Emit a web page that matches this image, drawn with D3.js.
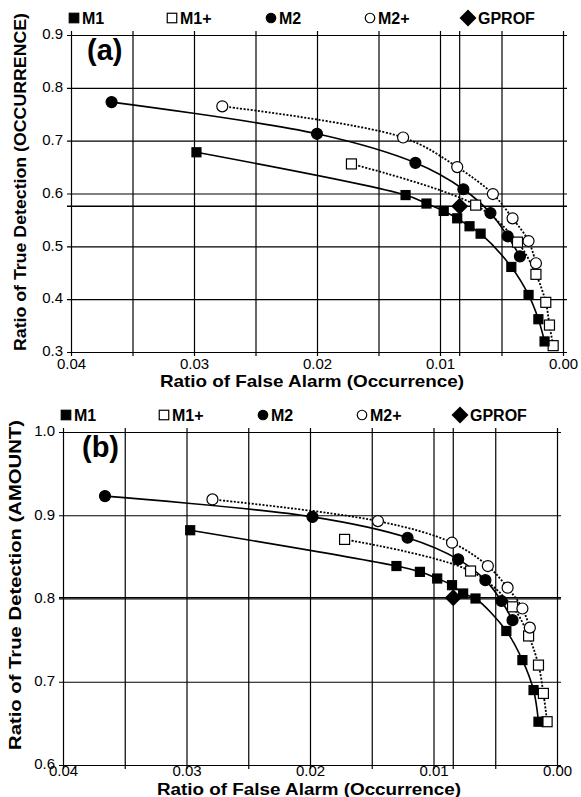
<!DOCTYPE html>
<html>
<head>
<meta charset="utf-8">
<script src="https://cdn.jsdelivr.net/npm/d3@7"></script>
<style>
body { margin: 0; background: #fff; }
text { font-family: "Liberation Sans", Arial, sans-serif; fill: #000; }
</style>
</head>
<body>
<div id="graph"></div>
<script>
// values: [false alarm ratio, true detection ratio]

// (a) occurrence
var m1A  = [[0.0298,0.678],[0.0128,0.597],[0.0111,0.581],[0.0097,0.567],[0.0086,0.553],[0.0076,0.538],
            [0.0067,0.524],[0.0042,0.461],[0.0028,0.408],[0.0020,0.362],[0.0015,0.320]];
var m1pA = [[0.0172,0.656],[0.0071,0.578],[0.0037,0.508],[0.0022,0.447],[0.0014,0.394],[0.0011,0.351],[0.0008,0.312]];
var m2A  = [[0.0367,0.773],[0.0200,0.713],[0.0120,0.658],[0.0081,0.608],[0.0059,0.563],[0.0045,0.519],[0.0035,0.481]];
var m2pA = [[0.0277,0.765],[0.0130,0.706],[0.0086,0.650],[0.0057,0.599],[0.0041,0.553],[0.0028,0.510],[0.0022,0.468]];
var gprofA = [0.0084,0.576];

// (b) amount
var m1B  = [[0.0297,0.882],[0.0130,0.839],[0.0111,0.832],[0.0097,0.824],[0.0085,0.816],[0.0076,0.806],
            [0.0066,0.800],[0.0041,0.761],[0.0028,0.726],[0.0019,0.690],[0.0015,0.652]];
var m1pB = [[0.0172,0.871],[0.0070,0.833],[0.0036,0.790],[0.0023,0.755],[0.0015,0.720],[0.0011,0.686],[0.0008,0.652]];
var m2B  = [[0.0366,0.923],[0.0198,0.898],[0.0121,0.873],[0.0080,0.847],[0.0058,0.822],[0.0045,0.797],[0.0036,0.774]];
var m2pB = [[0.0279,0.919],[0.0145,0.893],[0.0085,0.867],[0.0056,0.839],[0.0040,0.813],[0.0028,0.788],[0.0022,0.765]];
var gprofB = [0.0084,0.801];

var xGrid  = [0.04, 0.035, 0.03, 0.025, 0.02, 0.015, 0.01, 0.005, 0.0];
var yTicksA = [0.3, 0.4, 0.5, 0.6, 0.7, 0.8, 0.9];
var yTicksB = [0.6, 0.7, 0.8, 0.9, 1.0];
var legendNames = ["M1", "M1+", "M2", "M2+", "GPROF"];

var svg = d3.select("#graph").append("svg")
            .attr("width", 581)
            .attr("height", 797);

var lineSmooth = d3.curveCatmullRom.alpha(0.5);

function marker(sel, kind, s) {
    // s = side of the square / diameter of circle
    if (kind == "M1" || kind == "M1+") {
        sel.append("rect").attr("x", -s/2).attr("y", -s/2).attr("width", s).attr("height", s)
            .attr("fill", kind == "M1" ? "#000" : "#fff").attr("stroke", "#000").attr("stroke-width", 1.2);
    } else if (kind == "M2" || kind == "M2+") {
        sel.append("circle").attr("r", s/2)
            .attr("fill", kind == "M2" ? "#000" : "#fff").attr("stroke", "#000").attr("stroke-width", 1.2);
    } else {
        sel.append("rect").attr("x", -s/2).attr("y", -s/2).attr("width", s).attr("height", s)
            .attr("transform", "rotate(45)").attr("fill", "#000");
    }
}

function drawPanel(p) {
    var x = d3.scaleLinear().domain([0.04, 0]).range([p.left, p.right]);
    var y = d3.scaleLinear().domain(p.yDomain).range([p.bottom, p.top]);
    var g = svg.append("g");

    // vertical grid + x tick labels
    var xa = g.append("g")
        .attr("transform", "translate(0," + (p.bottom + 4) + ")")
        .call(d3.axisBottom(x).tickValues(xGrid)
            .tickSize(-(p.bottom - p.top + 8))
            .tickPadding(p.xPad)
            .tickFormat((d) => {return Math.round(d * 200) % 2 == 0 ? d3.format(".2f")(d) : ""}));
    xa.select(".domain").remove();
    xa.selectAll("line").attr("stroke", "#000").attr("stroke-width", 1.2);
    xa.selectAll("text").attr("font-size", 15).attr("font-family", "Liberation Sans, Arial, sans-serif");

    // horizontal grid + y tick labels
    var ya = g.append("g")
        .attr("transform", "translate(" + (p.left - 4) + ",0)")
        .call(d3.axisLeft(y).tickValues(p.yTicks)
            .tickSize(-(p.right - p.left + 8))
            .tickPadding(4)
            .tickFormat(d3.format(".1f")));
    ya.select(".domain").remove();
    ya.selectAll("line").attr("stroke", "#000").attr("stroke-width", 1.2);
    ya.selectAll("text").attr("font-size", 15).attr("dy", "0.25em")
        .attr("font-family", "Liberation Sans, Arial, sans-serif");

    // GPROF cross lines
    g.append("line")
        .attr("x1", x(p.gprof[0])).attr("x2", x(p.gprof[0]))
        .attr("y1", p.top - 4).attr("y2", p.bottom + 4)
        .attr("stroke", "#000").attr("stroke-width", 1.2);
    g.append("line")
        .attr("x1", p.left - 4).attr("x2", p.right + 4)
        .attr("y1", y(p.gprof[1])).attr("y2", y(p.gprof[1]))
        .attr("stroke", "#000").attr("stroke-width", 1.5);

    var line = d3.line()
        .x((d) => {return x(d[0])})
        .y((d) => {return y(d[1])})
        .curve(lineSmooth);

    var series = [
        {"name": "M1+", "data": p.m1p, "dash": "2,1.6", "size": 10},
        {"name": "M2+", "data": p.m2p, "dash": "2,1.6", "size": 11},
        {"name": "M1", "data": p.m1, "dash": null, "size": 9},
        {"name": "M2", "data": p.m2, "dash": null, "size": 11}
    ];

    series.forEach((s) => {
        g.append("path")
            .attr("d", line(s.data))
            .attr("fill", "none")
            .attr("stroke", "#000")
            .attr("stroke-width", s.dash ? 1.8 : 1.6)
            .attr("stroke-dasharray", s.dash);
    });

    series.forEach((s) => {
        g.selectAll(".pt-" + s.name.replace("+", "p"))
            .data(s.data)
          .enter().append("g")
            .attr("transform", (d) => {return "translate(" + x(d[0]) + "," + y(d[1]) + ")"})
            .each(function () { marker(d3.select(this), s.name, s.size); });
    });

    g.append("g")
        .attr("transform", "translate(" + x(p.gprof[0]) + "," + y(p.gprof[1]) + ")")
        .call((sel) => marker(sel, "GPROF", 12));

    // legend across the top
    var offs = [3, 101, 200, 299, 397];
    legendNames.forEach((n, i) => {
        var lg = g.append("g").attr("transform", "translate(" + (p.left + offs[i]) + "," + (p.top - 17) + ")");
        marker(lg, n, n == "GPROF" ? 12 : 9.5);
        lg.append("text")
            .attr("x", n == "GPROF" ? 10 : 8)
            .attr("y", 6)
            .attr("font-size", 16)
            .attr("font-weight", "bold")
            .text(n);
    });

    // panel letter
    g.append("text")
        .attr("x", p.left + p.letterDx)
        .attr("y", p.top + 25)
        .attr("font-size", 29)
        .attr("font-weight", "bold")
        .text(p.letter);

    // axis titles
    g.append("text")
        .attr("x", (p.left + p.right) / 2 + p.xTitleDx)
        .attr("y", p.xTitleY)
        .attr("text-anchor", "middle")
        .attr("font-size", p.xTitleSize)
        .attr("font-weight", "bold")
        .attr("textLength", 304)
        .attr("lengthAdjust", "spacingAndGlyphs")
        .text("Ratio of False Alarm (Occurrence)");

    g.append("text")
        .attr("transform", "translate(" + p.yTitleX + "," + p.yTitleY + ") rotate(-90)")
        .attr("text-anchor", "middle")
        .attr("font-size", 17)
        .attr("font-weight", "bold")
        .attr("textLength", p.yTitleLen)
        .attr("lengthAdjust", "spacingAndGlyphs")
        .text(p.yTitle);
}

drawPanel({
    "left": 71, "right": 563, "top": 35, "bottom": 352,
    "yDomain": [0.3, 0.9], "yTicks": yTicksA,
    "m1": m1A, "m1p": m1pA, "m2": m2A, "m2p": m2pA, "gprof": gprofA,
    "letter": "(a)", "letterDx": 16, "xPad": 2,
    "xTitleDx": -5, "xTitleY": 387, "xTitleSize": 17,
    "yTitle": "Ratio of True Detection (OCCURRENCE)", "yTitleX": 26, "yTitleY": 182, "yTitleLen": 338
});

drawPanel({
    "left": 63, "right": 557, "top": 432, "bottom": 765,
    "yDomain": [0.6, 1.0], "yTicks": yTicksB,
    "m1": m1B, "m1p": m1pB, "m2": m2B, "m2p": m2pB, "gprof": gprofB,
    "letter": "(b)", "letterDx": 19, "xPad": -4,
    "xTitleDx": -1, "xTitleY": 795, "xTitleSize": 16,
    "yTitle": "Ratio of True Detection (AMOUNT)", "yTitleX": 21, "yTitleY": 585, "yTitleLen": 330
});
</script>
</body>
</html>
